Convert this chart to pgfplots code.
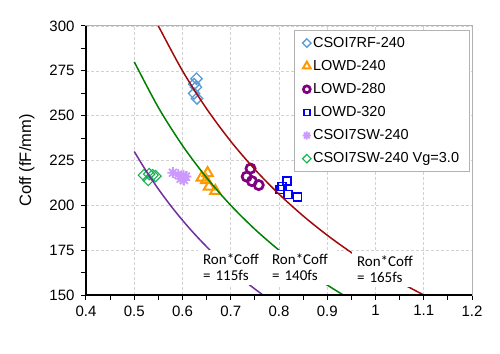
\documentclass[border=0pt]{standalone}
\usepackage{fontspec}
\setmainfont{Liberation Sans}
\newfontfamily\calibri{Carlito}
\usepackage{pgfplots}
\pgfplotsset{compat=1.18}
\definecolor{cRF}{RGB}{91,155,213}
\definecolor{cLa}{RGB}{255,153,0}
\definecolor{cLb}{RGB}{128,0,128}
\definecolor{cLc}{RGB}{0,0,255}
\definecolor{cSW}{RGB}{204,153,255}
\definecolor{cSWg}{RGB}{20,180,80}
\definecolor{cA}{RGB}{112,48,160}
\definecolor{cB}{RGB}{0,128,0}
\definecolor{cC}{RGB}{160,10,10}
\pgfdeclareplotmark{burst}{%
 \pgfpathmoveto{\pgfqpoint{0pt}{\pgfplotmarksize}}\pgfpathlineto{\pgfqpoint{0pt}{-\pgfplotmarksize}}%
 \pgfpathmoveto{\pgfqpoint{\pgfplotmarksize}{0pt}}\pgfpathlineto{\pgfqpoint{-\pgfplotmarksize}{0pt}}%
 \pgfpathmoveto{\pgfqpoint{0.707\pgfplotmarksize}{0.707\pgfplotmarksize}}\pgfpathlineto{\pgfqpoint{-0.707\pgfplotmarksize}{-0.707\pgfplotmarksize}}%
 \pgfpathmoveto{\pgfqpoint{-0.707\pgfplotmarksize}{0.707\pgfplotmarksize}}\pgfpathlineto{\pgfqpoint{0.707\pgfplotmarksize}{-0.707\pgfplotmarksize}}%
 \pgfusepathqstroke}
\begin{document}
\begin{tikzpicture}
\begin{axis}[name=ax, scale only axis, width=386pt, height=269pt,
 xmin=0.4, xmax=1.2, ymin=150, ymax=300,
 xtick={0.4,0.5,0.6,0.7,0.8,0.9,1.0,1.1,1.2},
 ytick={150,175,200,225,250,275,300},
 minor x tick num=1, minor y tick num=1,
 tick align=outside, tick pos=left,
 major tick length=5pt, minor tick length=5pt,
 every tick/.style={black, line width=1pt},
 grid=major, major grid style={densely dashed, gray!35, line width=0.6pt},
 axis line style={draw=gray!60, line width=1pt},
 clip mode=individual,
 tick label style={font=\fontsize{15}{17}\selectfont},
 /pgf/number format/assume math mode=true,
 yticklabel style={xshift=-3pt},
 xticklabel style={yshift=-2pt},
 ylabel={Coff (fF/mm)},
 ylabel style={font=\fontsize{16.5}{19}\selectfont, at={(axis description cs:-0.153,0.5)}, anchor=center},
 legend style={at={(0.993,0.985)}, anchor=north east, draw=gray!60, fill=white,
   font=\fontsize{14.5}{17}\selectfont, row sep=7.5pt, inner xsep=8pt, inner ysep=5pt},
 legend cell align=left,
 legend image code/.code={\draw[mark repeat=2,mark phase=2,#1,every mark/.append style={scale=0.75}] plot coordinates {(0pt,0pt)(7pt,0pt)(11pt,0pt)};},
]
\addplot[only marks, color=cRF, mark=square, mark size=4pt, mark options={rotate=45}, line width=1.3pt]
 coordinates {(0.629,270.6) (0.624,267.6) (0.628,265.9) (0.624,262.4) (0.630,259.6)};
\addlegendentry{CSOI7RF-240}
\addplot[only marks, color=cLa, mark=triangle, mark size=6pt, line width=2pt]
 coordinates {(0.652,218) (0.640,215.5) (0.649,214) (0.655,210.5) (0.668,208)};
\addlegendentry{LOWD-240}
\addplot[only marks, color=cLb, mark=o, mark size=4.6pt, line width=2.7pt]
 coordinates {(0.741,220.5) (0.733,216) (0.744,213.5) (0.758,211.3)};
\addlegendentry{LOWD-280}
\addplot[only marks, color=cLc, mark=square, mark size=4pt, line width=1.6pt]
 coordinates {(0.817,213.5) (0.806,210.4) (0.802,208.9) (0.819,206.1) (0.838,204.8)};
\addlegendentry{LOWD-320}
\addplot[only marks, color=cSW, mark=burst, mark size=5.5pt, line width=1.8pt]
 coordinates {(0.580,218.2) (0.591,217.2) (0.602,216.7) (0.607,216) (0.596,214.8) (0.603,214.1)};
\addlegendentry{CSOI7SW-240}
\addplot[only marks, color=cSWg, mark=square, mark size=4pt, mark options={rotate=45}, line width=1.1pt]
 coordinates {(0.520,216.8) (0.531,217.4) (0.538,216.8) (0.544,216.3) (0.529,214.1)};
\addlegendentry{CSOI7SW-240 Vg=3.0}
\addplot[forget plot, cA, line width=1.5pt, smooth] coordinates {
 (0.50,230) (0.52,221.15) (0.54,212.96) (0.56,205.36) (0.58,198.28) (0.60,191.67)
 (0.62,185.48) (0.64,179.69) (0.66,174.24) (0.68,169.12) (0.70,164.29) (0.72,159.72)
 (0.74,155.41) (0.76,151.32) (0.7667,150)};
\addplot[forget plot, cB, line width=1.5pt, smooth] coordinates {
 (0.50,280) (0.55,254.55) (0.60,233.33) (0.65,215.38) (0.70,200) (0.75,186.67)
 (0.80,175) (0.85,164.71) (0.90,155.56) (0.9333,150)};
\addplot[forget plot, cC, line width=1.5pt, smooth] coordinates {
 (0.55,300) (0.60,275) (0.65,253.85) (0.70,235.71) (0.75,220) (0.80,206.25)
 (0.85,194.12) (0.90,183.33) (0.95,173.68) (1.00,165) (1.05,157.14) (1.10,150)};
\draw[black, line width=1.5pt] (rel axis cs:0,1) -- (rel axis cs:0,0) -- (rel axis cs:1,0);
\node[fill=white, anchor=north west, text width=60pt, inner xsep=5pt, inner ysep=4pt, align=left,
  font=\calibri\fontsize{15}{16.5}\selectfont] at (axis cs:0.632,175.3) {Ron*Coff\\= 115fs};
\node[fill=white, anchor=north west, text width=60pt, inner xsep=5pt, inner ysep=4pt, align=left,
  font=\calibri\fontsize{15}{16.5}\selectfont] at (axis cs:0.775,175.3) {Ron*Coff\\= 140fs};
\node[fill=white, anchor=north west, text width=60pt, inner xsep=5pt, inner ysep=4pt, align=left,
  font=\calibri\fontsize{15}{16.5}\selectfont] at (axis cs:0.951,174.4) {Ron*Coff\\= 165fs};
\end{axis}
\path (ax.south west) ++(-86pt,-58pt) rectangle ([shift={(28pt,26pt)}]ax.north east);
\end{tikzpicture}
\end{document}
